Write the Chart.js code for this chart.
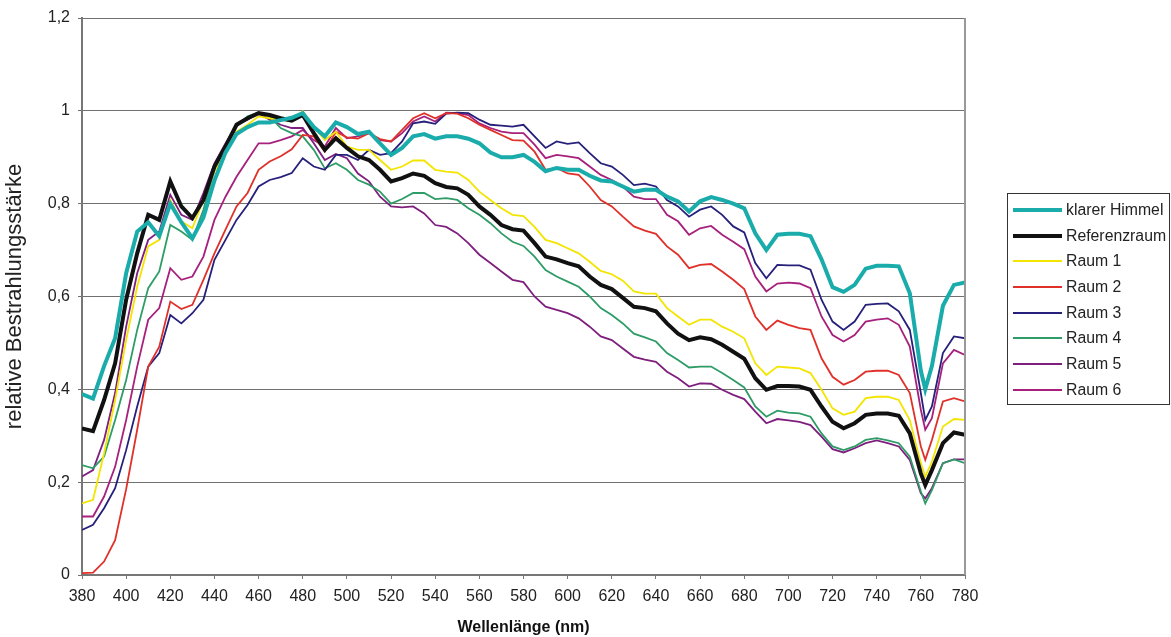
<!DOCTYPE html>
<html lang="de">
<head>
    <meta charset="UTF-8">
    <title>Relative Bestrahlungsstärke</title>
    <script src="https://cdn.jsdelivr.net/npm/chart.js"></script>
    <style>
        body {
            margin: 0;
            background: #fff;
            font-family: "Liberation Sans", Arial, sans-serif;
        }
        #wrap {
            position: relative;
            width: 1171px;
            height: 637px;
        }
        #legend {
            position: absolute;
            left: 1007px;
            top: 193px;
            width: 163px;
            height: 212px;
            border: 1px solid #333;
            box-sizing: border-box;
            padding-top: 3px;
        }
        .item {
            height: 25.7px;
            display: flex;
            align-items: center;
            font-size: 15.8px;
            color: #222;
            white-space: nowrap;
        }
        .item span.swatch {
            display: inline-block;
            width: 49px;
            margin-left: 5px;
            margin-right: 4px;
        }
    </style>
</head>
<body>
<div id="wrap">
    <canvas id="chart" width="1171" height="637"></canvas>
    <div id="legend"></div>
</div>
<script>
    // wavelengths in nm
    const wavelengths = [380,385,390,395,400,405,410,415,420,425,430,435,440,445,450,455,460,465,470,475,480,
        485,490,495,500,505,510,515,520,525,530,535,540,545,550,555,560,565,570,575,580,
        585,590,595,600,605,610,615,620,625,630,635,640,645,650,655,660,665,670,675,680,
        685,690,695,700,705,710,715,720,725,730,735,740,745,750,755,760,762,765,770,775,780];

    const seriesNames = ['klarer Himmel', 'Referenzraum', 'Raum 1', 'Raum 2', 'Raum 3', 'Raum 4', 'Raum 5', 'Raum 6'];
    const seriesColors = ['#1AABAB', '#111111', '#F3E500', '#E0302A', '#26207A', '#2E9C66', '#7E1F7E', '#A6207C'];
    const seriesWidths = [4, 4, 1.8, 1.8, 1.8, 1.8, 1.8, 1.8];

    const klarerHimmel = [0.39,0.38,0.45,0.51,0.65,0.74,0.76,0.73,0.80,0.76,0.725,0.77,0.85,0.91,0.95,0.965,0.975,0.975,0.98,0.985,0.995,
        0.965,0.945,0.975,0.965,0.95,0.955,0.93,0.905,0.92,0.945,0.95,0.94,0.945,0.945,0.94,0.93,0.91,0.90,0.90,0.905,
        0.89,0.87,0.877,0.873,0.873,0.86,0.85,0.848,0.837,0.826,0.83,0.83,0.815,0.805,0.783,0.805,0.814,0.808,0.80,0.79,
        0.736,0.70,0.733,0.735,0.735,0.73,0.68,0.62,0.61,0.625,0.66,0.666,0.666,0.665,0.607,0.44,0.40,0.45,0.58,0.625,0.63];

    const referenzraum = [0.316,0.31,0.377,0.456,0.593,0.693,0.776,0.765,0.848,0.794,0.769,0.808,0.88,0.923,0.97,0.984,0.995,0.991,0.984,0.979,0.991,
        0.952,0.916,0.941,0.92,0.902,0.894,0.873,0.848,0.855,0.865,0.86,0.844,0.836,0.833,0.819,0.794,0.776,0.754,0.745,0.742,
        0.715,0.686,0.68,0.672,0.665,0.643,0.625,0.616,0.597,0.578,0.575,0.568,0.542,0.52,0.506,0.512,0.508,0.496,0.481,0.466,
        0.424,0.399,0.407,0.407,0.406,0.399,0.363,0.33,0.316,0.327,0.345,0.348,0.348,0.343,0.305,0.219,0.194,0.226,0.284,0.307,0.302];

    const raum1 = [0.154,0.162,0.262,0.377,0.506,0.621,0.708,0.722,0.808,0.762,0.747,0.808,0.869,0.912,0.955,0.97,0.988,0.984,0.98,0.979,0.999,
        0.966,0.937,0.955,0.923,0.916,0.916,0.894,0.873,0.88,0.893,0.893,0.873,0.869,0.867,0.851,0.826,0.808,0.79,0.776,0.773,
        0.75,0.722,0.715,0.704,0.693,0.675,0.655,0.648,0.634,0.611,0.606,0.606,0.575,0.557,0.539,0.55,0.55,0.535,0.524,0.51,
        0.456,0.431,0.449,0.447,0.445,0.435,0.399,0.359,0.345,0.352,0.381,0.384,0.384,0.377,0.334,0.241,0.212,0.244,0.32,0.336,0.334];

    const raum2 = [0.004,0.005,0.029,0.075,0.185,0.313,0.449,0.492,0.589,0.573,0.582,0.636,0.693,0.744,0.794,0.823,0.873,0.891,0.902,0.917,0.948,
        0.945,0.912,0.955,0.943,0.94,0.952,0.939,0.934,0.959,0.984,0.995,0.984,0.995,0.994,0.984,0.97,0.959,0.948,0.937,0.936,
        0.912,0.873,0.877,0.865,0.862,0.837,0.808,0.794,0.772,0.751,0.742,0.735,0.708,0.69,0.661,0.668,0.67,0.654,0.636,0.616,
        0.557,0.528,0.548,0.539,0.532,0.528,0.467,0.427,0.41,0.42,0.438,0.44,0.44,0.431,0.392,0.277,0.248,0.291,0.374,0.381,0.374];

    const raum3 = [0.097,0.108,0.144,0.187,0.269,0.363,0.449,0.478,0.56,0.542,0.564,0.593,0.679,0.722,0.765,0.797,0.837,0.851,0.857,0.866,0.898,
        0.88,0.873,0.905,0.905,0.894,0.916,0.905,0.909,0.934,0.973,0.977,0.972,0.994,0.996,0.995,0.981,0.97,0.968,0.966,0.97,
        0.945,0.92,0.934,0.929,0.932,0.909,0.887,0.88,0.862,0.84,0.843,0.837,0.808,0.794,0.772,0.787,0.794,0.776,0.751,0.738,
        0.672,0.639,0.668,0.667,0.667,0.658,0.593,0.546,0.528,0.546,0.582,0.584,0.585,0.568,0.528,0.392,0.334,0.363,0.478,0.514,0.51];

    const raum4 = [0.237,0.23,0.255,0.334,0.42,0.528,0.618,0.654,0.754,0.74,0.722,0.787,0.873,0.923,0.966,0.988,0.996,0.988,0.963,0.952,0.945,
        0.916,0.876,0.887,0.873,0.851,0.841,0.826,0.80,0.81,0.823,0.823,0.81,0.812,0.808,0.79,0.776,0.758,0.736,0.718,0.709,
        0.686,0.657,0.643,0.632,0.621,0.60,0.575,0.56,0.542,0.52,0.512,0.503,0.478,0.463,0.447,0.449,0.449,0.435,0.42,0.404,
        0.363,0.341,0.354,0.35,0.348,0.341,0.305,0.277,0.269,0.277,0.291,0.295,0.29,0.284,0.255,0.18,0.154,0.183,0.241,0.249,0.241];

    const raum5 = [0.212,0.226,0.291,0.392,0.535,0.65,0.722,0.74,0.819,0.776,0.765,0.823,0.887,0.93,0.97,0.981,0.995,0.981,0.97,0.963,0.963,
        0.93,0.894,0.907,0.898,0.865,0.848,0.815,0.794,0.792,0.794,0.779,0.754,0.75,0.736,0.715,0.69,0.672,0.654,0.636,0.631,
        0.60,0.578,0.571,0.564,0.553,0.535,0.514,0.506,0.488,0.47,0.464,0.459,0.438,0.424,0.406,0.413,0.412,0.399,0.388,0.379,
        0.352,0.327,0.336,0.333,0.33,0.323,0.298,0.271,0.264,0.273,0.284,0.29,0.284,0.277,0.248,0.176,0.165,0.187,0.241,0.249,0.249];

    const raum6 = [0.126,0.126,0.169,0.233,0.334,0.449,0.55,0.575,0.661,0.636,0.643,0.686,0.765,0.815,0.858,0.894,0.93,0.93,0.937,0.945,0.959,
        0.937,0.923,0.963,0.941,0.945,0.952,0.937,0.934,0.952,0.977,0.988,0.977,0.996,0.995,0.991,0.973,0.963,0.955,0.952,0.952,
        0.927,0.898,0.905,0.902,0.898,0.88,0.862,0.851,0.837,0.815,0.81,0.81,0.776,0.762,0.733,0.747,0.752,0.733,0.718,0.702,
        0.643,0.611,0.628,0.63,0.628,0.618,0.557,0.517,0.503,0.517,0.546,0.55,0.553,0.539,0.492,0.356,0.313,0.338,0.456,0.485,0.474];

    const seriesValues = [klarerHimmel, referenzraum, raum1, raum2, raum3, raum4, raum5, raum6];

    const datasets = seriesNames.map((name, i) => ({
        label: name,
        data: wavelengths.map((w, j) => ({ x: w, y: seriesValues[i][j] })),
        borderColor: seriesColors[i],
        borderWidth: seriesWidths[i],
        pointRadius: 0,
        tension: 0,
        fill: false
    }));

    // legend next to the plot, built from the same arrays
    const legend = document.getElementById('legend');
    seriesNames.forEach((name, i) => {
        const row = document.createElement('div');
        row.className = 'item';
        const sw = document.createElement('span');
        sw.className = 'swatch';
        sw.style.height = (seriesWidths[i] > 2 ? 4 : 2) + 'px';
        sw.style.background = seriesColors[i];
        row.appendChild(sw);
        row.appendChild(document.createTextNode(name));
        legend.appendChild(row);
    });

    const rightBorder = {
        id: 'rightBorder',
        afterDraw(chart) {
            const a = chart.chartArea;
            const ctx = chart.ctx;
            ctx.save();
            ctx.strokeStyle = '#999';
            ctx.lineWidth = 2;
            ctx.beginPath();
            ctx.moveTo(a.right, a.top);
            ctx.lineTo(a.right, a.bottom);
            ctx.stroke();
            ctx.restore();
        }
    };

    const fam = '"Liberation Sans", Arial, sans-serif';
    const tickFont = { family: fam, size: 16 };

    new Chart(document.getElementById('chart'), {
        type: 'line',
        data: { datasets: datasets },
        options: {
            responsive: false,
            animation: false,
            layout: { padding: { left: 0, top: 18, right: 206, bottom: 0 } },
            plugins: {
                legend: { display: false },
                tooltip: { enabled: false }
            },
            scales: {
                x: {
                    type: 'linear',
                    min: 380,
                    max: 780,
                    afterFit: s => { s.height = 62; },
                    ticks: { stepSize: 20, color: '#222', font: tickFont, padding: 8, maxRotation: 0 },
                    grid: { drawOnChartArea: false, drawTicks: true, tickLength: 4, color: '#777' },
                    border: { display: true, color: '#777', width: 2 },
                    title: {
                        display: true,
                        text: 'Wellenlänge (nm)',
                        color: '#111',
                        font: { family: fam, size: 16, weight: 'bold' },
                        padding: { top: 0, bottom: 0 }
                    }
                },
                y: {
                    min: 0,
                    max: 1.2,
                    afterFit: s => { s.width = 82; },
                    ticks: {
                        stepSize: 0.2,
                        color: '#222',
                        font: tickFont,
                        padding: 8,
                        callback: v => String(+v.toFixed(1)).replace('.', ',')
                    },
                    grid: { color: '#707070', lineWidth: 1, tickLength: 4 },
                    border: { display: true, color: '#777', width: 2 },
                    title: {
                        display: true,
                        text: 'relative Bestrahlungsstärke',
                        color: '#222',
                        font: { family: fam, size: 22 },
                        padding: { top: 2, bottom: 0 }
                    }
                }
            }
        },
        plugins: [rightBorder]
    });
</script>
</body>
</html>
